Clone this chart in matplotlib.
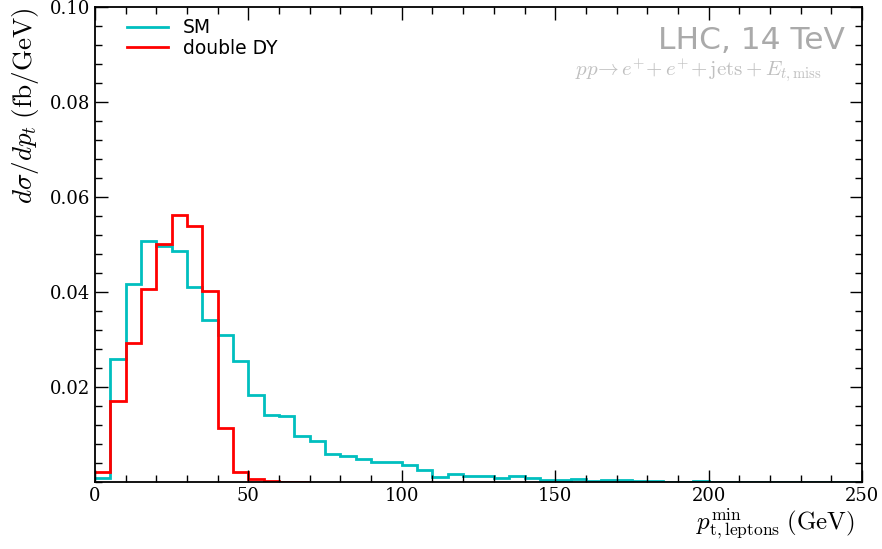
import numpy as np
import matplotlib
matplotlib.use("Agg")
import matplotlib.pyplot as plt
from matplotlib.ticker import MultipleLocator

# bin edges (GeV)
bin_width = 5
sm_values = [0.0008, 0.0260, 0.0417, 0.0508, 0.0497, 0.0486, 0.0410, 0.0341, 0.0310, 0.0255,
             0.0184, 0.0141, 0.0139, 0.0097, 0.0086, 0.0060, 0.0055, 0.0049, 0.0042, 0.0043,
             0.0035, 0.0026, 0.0011, 0.0016, 0.0013, 0.0013, 0.0008, 0.0013, 0.0008, 0.0004,
             0.0004, 0.0006, 0.0003, 0.0004, 0.0004, 0.0002, 0.0002, 0.0001, 0.0001, 0.0003,
             0.0001, 0.0001, 0.0001, 0.0001, 0.0001, 0.0001, 0.0001, 0.0001, 0.0001, 0.0001]
ddy_values = [0.0022, 0.0170, 0.0293, 0.0407, 0.0502, 0.0562, 0.0540, 0.0402, 0.0114, 0.0021,
              0.0006, 0.0002, 0.0001, 0.0000]
sm_edges = np.arange(len(sm_values) + 1) * bin_width
ddy_edges = np.arange(len(ddy_values) + 1) * bin_width

xticks = [0, 50, 100, 150, 200, 250]
yticks = [0.02, 0.04, 0.06, 0.08, 0.10]
ytick_labels = ["0.02", "0.04", "0.06", "0.08", "0.10"]

plt.rcParams['mathtext.fontset'] = 'cm'

fig = plt.figure(figsize=(8.82, 5.49), dpi=100)
ax = fig.add_axes([0.1077, 0.122, 0.8696, 0.865])

ax.stairs(sm_values, sm_edges, baseline=None, color='c', lw=2, label='SM')
ax.stairs(ddy_values, ddy_edges, baseline=None, color='r', lw=2, label='double DY')

ax.set_xlim(0, 250)
ax.set_ylim(0, 0.1)
ax.set_xticks(xticks)
ax.set_yticks(yticks)
ax.set_yticklabels(ytick_labels)
ax.xaxis.set_minor_locator(MultipleLocator(10))
ax.yaxis.set_minor_locator(MultipleLocator(0.004))
ax.tick_params(which='both', direction='in', top=True, right=True)
ax.tick_params(which='major', length=9, width=1)
ax.tick_params(which='minor', length=5, width=1)
for lab in ax.get_xticklabels() + ax.get_yticklabels():
    lab.set_fontfamily('DejaVu Serif')
    lab.set_fontsize(13)
for s in ax.spines.values():
    s.set_linewidth(1.3)

ax.set_ylabel(r'$d\sigma/dp_t\;\mathrm{(fb/GeV)}$', fontsize=19.5, loc='top', labelpad=6)
ax.set_xlabel(r'$p_{\mathrm{t,leptons}}^{\mathrm{min}}\;\mathrm{(GeV)}$', fontsize=18, labelpad=1)
ax.xaxis.set_label_coords(0.99, -0.051)
ax.xaxis.label.set_horizontalalignment('right')

leg = ax.legend(loc='upper left', frameon=False, fontsize=13.5, handlelength=2.2,
                labelspacing=0.08, borderaxespad=0.3, bbox_to_anchor=(0.024, 1.004))

ax.text(0.978, 0.912, 'LHC, 14 TeV', transform=ax.transAxes, ha='right', va='baseline',
        fontsize=22.5, color='#aaaaaa')
ax.text(0.948, 0.856, r'$pp\!\rightarrow e^{+}\!+e^{+}\!+\mathrm{jets}+E_{t,\mathrm{miss}}$',
        transform=ax.transAxes, ha='right', va='baseline', fontsize=15, color='#c0c0c0')

fig.savefig('out.png', dpi=100)
